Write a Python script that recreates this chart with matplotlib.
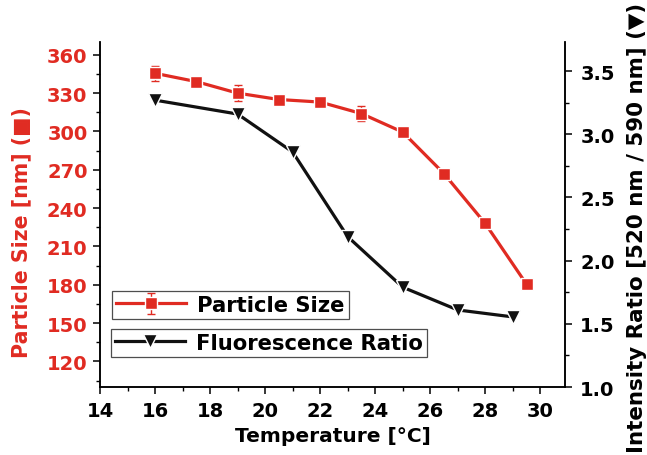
import matplotlib
matplotlib.use("Agg")
import matplotlib.pyplot as plt
from matplotlib.ticker import MultipleLocator

# data
temp_size = [16, 17.5, 19, 20.5, 22, 23.5, 25, 26.5, 28, 29.5]
size_nm = [345.5, 339, 330, 325, 323, 314, 299.5, 267, 228, 180.5]
size_err = [6, 2, 6.5, 2, 2, 6, 2, 2, 2, 2]

temp_ratio = [16, 19, 21, 23, 25, 27, 29]
ratio = [3.27, 3.16, 2.86, 2.19, 1.79, 1.61, 1.555]

RED = "#e02b22"
FONT = ["DejaVu Sans"]

plt.rcParams["font.family"] = FONT
plt.rcParams["font.weight"] = "bold"

fig = plt.figure(figsize=(6.47, 4.56), dpi=100)
ax = fig.add_axes([0.1546, 0.149, 0.7187, 0.7567])
ax2 = ax.twinx()

ax.errorbar(temp_size, size_nm, yerr=size_err, color=RED, lw=2.3,
            marker="s", ms=8.5, mfc=RED, mec="white", mew=1.0,
            ecolor=RED, elinewidth=1.0, capsize=3, capthick=1.0,
            label="Particle Size", zorder=3)
ax2.plot(temp_ratio, ratio, color="#111111", lw=2.3, marker="v", ms=10,
         mfc="#111111", mec="white", mew=1.0, label="Fluorescence Ratio", zorder=3)

ax.set_xlim(14, 30.9)
ax.set_ylim(100, 370)
ax2.set_ylim(1.0, 3.73)

ax.xaxis.set_major_locator(MultipleLocator(2))
ax.xaxis.set_minor_locator(MultipleLocator(1))
ax.yaxis.set_minor_locator(MultipleLocator(15))
ax.set_yticks([120, 150, 180, 210, 240, 270, 300, 330, 360])
ax2.yaxis.set_minor_locator(MultipleLocator(0.25))
ax2.set_yticks([1.0, 1.5, 2.0, 2.5, 3.0, 3.5])
ax2.set_yticklabels(["1.0", "1.5", "2.0", "2.5", "3.0", "3.5"])

for a in (ax, ax2):
    a.spines["top"].set_visible(False)
    for s in a.spines.values():
        s.set_linewidth(1.1)
    a.tick_params(which="major", direction="out", length=5, width=1.1,
                  labelsize=14, pad=4)
    a.tick_params(which="minor", direction="out", length=3, width=1.0)

ax.tick_params(axis="y", labelcolor=RED)
ax.tick_params(axis="x", pad=5)
ax2.tick_params(axis="y", pad=6)

ax.set_xlabel("Temperature [°C]", fontsize=14.5, fontweight="bold", labelpad=4)
ax.set_ylabel("Particle Size [nm] (■)", fontsize=14.8, fontweight="bold",
              color=RED)
ax.yaxis.set_label_coords(-0.147, 0.452)
ax2.set_ylabel("Intensity Ratio [520 nm / 590 nm] (▼)", fontsize=15.4,
               fontweight="bold")
ax2.yaxis.set_label_coords(1.133, 0.464)

h1, l1 = ax.get_legend_handles_labels()
h2, l2 = ax2.get_legend_handles_labels()
leg_kw = dict(loc="lower left", frameon=True, fancybox=False,
              handlelength=3.3, handletextpad=0.55, borderpad=0.2,
              borderaxespad=0, prop={"family": FONT, "weight": "bold", "size": 15.2})
leg2 = ax2.legend(h2, l2, bbox_to_anchor=(0.023, 0.087), **leg_kw)
leg2.get_frame().set_edgecolor("#222222")
leg2.get_frame().set_linewidth(0.9)
ax2.add_artist(leg2)
leg1 = ax2.legend([h1[0]], l1, bbox_to_anchor=(0.025, 0.197), **leg_kw)
leg1.get_frame().set_edgecolor("#222222")
leg1.get_frame().set_linewidth(0.9)

fig.savefig("out.png", dpi=100)
